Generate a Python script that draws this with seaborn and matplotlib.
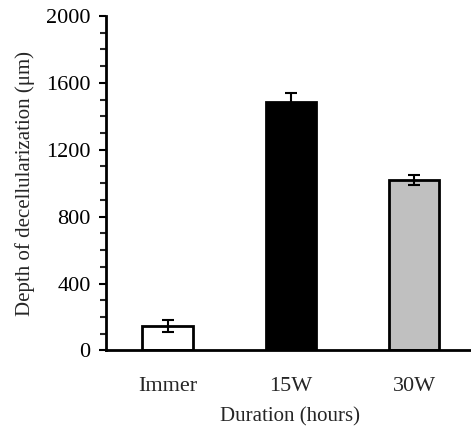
import numpy as np
import pandas as pd
import matplotlib
matplotlib.use("Agg")
import matplotlib.pyplot as plt
from matplotlib.ticker import MultipleLocator
import seaborn as sns

groups = ["Immer", "15W", "30W"]
depth = [146, 1484, 1019]
depth_err = [35, 57, 32]
bar_colors = ["#ffffff", "#000000", "#c0c0c0"]

sns.set_style("ticks")
plt.rcParams["font.family"] = ["Liberation Serif", "DejaVu Serif"]

df = pd.DataFrame({"group": groups, "depth": depth})

fig = plt.figure(figsize=(4.71, 4.30), dpi=100)
ax = fig.add_axes([0.225, 0.185, 0.78, 0.778])

sns.barplot(data=df, x="group", y="depth", hue="group", palette=bar_colors,
            width=0.41, edgecolor="black", linewidth=2, legend=False, ax=ax)
ax.errorbar(np.arange(len(groups)), depth, yerr=depth_err, fmt="none",
            ecolor="black", elinewidth=1.5, capsize=4, capthick=1.5)

ax.set_ylim(0, 2000)
ax.set_xlim(-0.5, 2.48)
ax.yaxis.set_major_locator(MultipleLocator(400))
ax.yaxis.set_minor_locator(MultipleLocator(100))
ax.tick_params(axis="y", which="major", direction="out", length=5, width=1.5,
               labelsize=16, pad=6, colors="black")
ax.tick_params(axis="y", which="minor", direction="out", length=4, width=1.5)
ax.tick_params(axis="x", length=0, labelsize=16, pad=19)

ax.set_xlabel("Duration (hours)", fontsize=15, labelpad=8)
ax.set_ylabel("Depth of decellularization (\u03bcm)", fontsize=15, labelpad=8)

sns.despine(ax=ax)
for side in ["left", "bottom"]:
    ax.spines[side].set_linewidth(2)
    ax.spines[side].set_color("black")

fig.savefig("out.png", dpi=100)
